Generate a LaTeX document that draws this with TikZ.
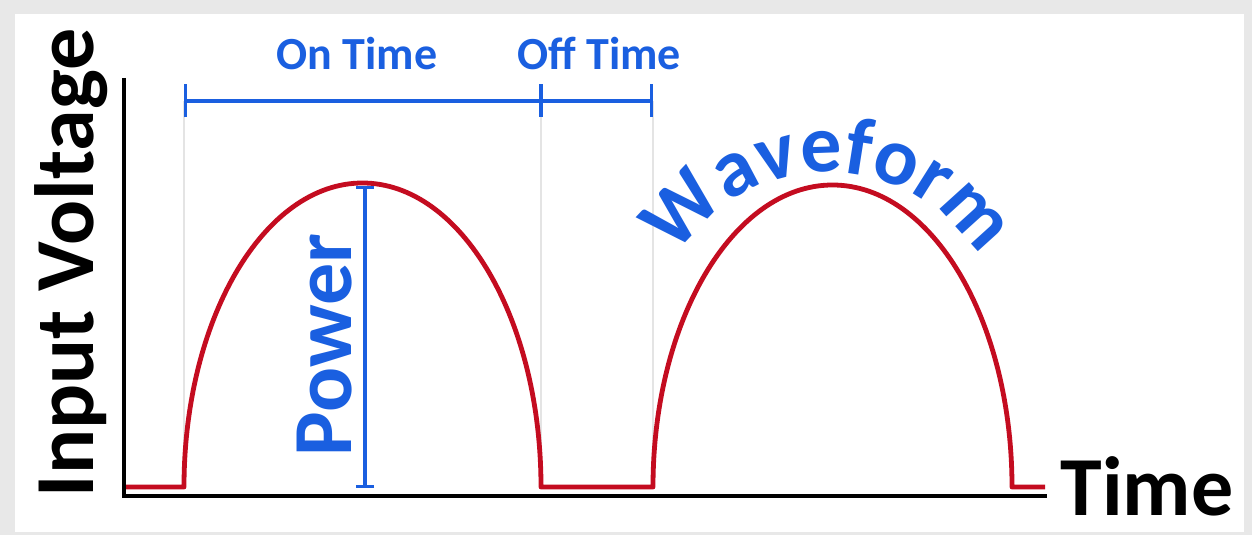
\documentclass[tikz,border=0pt]{standalone}
\usepackage{fontspec}
\setmainfont{Carlito}
\usetikzlibrary{arrows.meta,decorations.text}
\definecolor{Frame}{HTML}{E8E8E8}
\definecolor{Guide}{HTML}{E4E4E4}
\definecolor{Wave}{HTML}{C40C20}
\definecolor{Dim}{HTML}{1A5FE0}

\begin{document}
\begin{tikzpicture}[x=0.5pt,y=-0.5pt,
    axis/.style={draw=black,line width=1.6pt},
    wave/.style={draw=Wave,line width=2.4pt,line join=round},
    guide/.style={draw=Guide,line width=1.2pt},
    dimline/.style={draw=Dim,line width=1.6pt},
    dim/.style={dimline,{Bar[width=16.5pt]}-{Bar[width=16.5pt]}},
    pdim/.style={dimline,{Bar[width=9pt]}-{Bar[width=9pt]}},
    big/.style={font=\fontsize{42}{42}\selectfont\bfseries},
    small/.style={font=\fontsize{23}{23}\selectfont\bfseries,text=Dim}]
  \useasboundingbox (0,0) rectangle (1252,535);
  \fill[Frame] (0,0) rectangle (1252,535);
  \fill[white] (15,14) rectangle (1244,532);
  % time marks
  \coordinate (onA) at (184,101);
  \coordinate (onB) at (541,101);
  \coordinate (offB) at (653,101);
  \draw[guide] (onA) -- ++(0,386);
  \draw[guide] (onB) -- ++(0,386);
  \draw[guide] (offB) -- ++(0,386);
  % waveform
  \coordinate (wL) at (124,487);
  \coordinate (a1) at (184,487);
  \coordinate (a2) at (653,487);
  \coordinate (wR) at (1045,487);
  \draw[wave] (wL) -- (a1)
    arc[start angle=180,end angle=0,x radius=89.25pt,y radius=152pt] -- (a2)
    arc[start angle=180,end angle=0,x radius=89.75pt,y radius=151pt] -- (wR);
  % axes
  \coordinate (top) at (124,78);
  \coordinate (org) at (124,496);
  \coordinate (end) at (1047,496);
  \draw[axis] (top) -- (org) -- (end);
  % dimensions
  \draw[dim] (onA) -- (offB);
  \draw[dimline] ([yshift=8.25pt]onB) -- ([yshift=-8.25pt]onB);
  \coordinate (pTop) at (365,186);
  \coordinate (pBot) at (365,488);
  \draw[pdim] (pTop) -- (pBot);
  % labels
  \node[big,rotate=90,anchor=base] (vlt) at (93,263) {Input Voltage};
  \node[big,anchor=base] (tim) at (1147,515) {Time};
  \node[big,text=Dim,rotate=90,anchor=base] (pwr) at (351,345) {Power};
  \node[small,anchor=base] (on) at (357,70) {On Time};
  \node[small,anchor=base] (off) at (599,70) {Off Time};
  \path[decorate,decoration={text along path,text align=center,text color=Dim,
      text={|\fontsize{41}{41}\selectfont\bfseries|Waveform}}]
    (828,348) ++(152:88pt) arc[start angle=152,end angle=28,radius=88pt];
\end{tikzpicture}
\end{document}
